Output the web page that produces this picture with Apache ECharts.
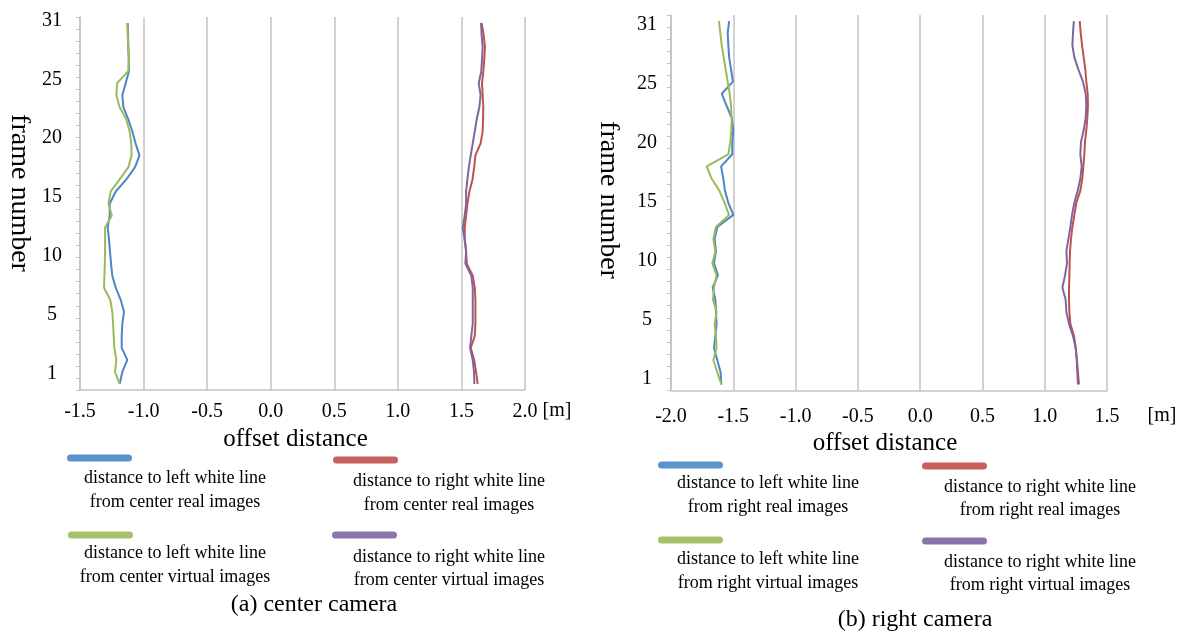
<!DOCTYPE html>
<html>
<head>
<meta charset="utf-8">
<title>offset distance per frame</title>
<script src="https://cdn.jsdelivr.net/npm/echarts@6.0.0/dist/echarts.min.js"></script>
<style>
  html, body { margin: 0; padding: 0; background: #fff; }
  #chart { width: 1190px; height: 632px; }
</style>
</head>
<body>
<div id="chart"></div>
<script>
  // frame numbers, bottom to top
  const frames = ['1', '2', '3', '4', '5', '6', '7', '8', '9', '10',
    '11', '12', '13', '14', '15', '16', '17', '18', '19', '20',
    '21', '22', '23', '24', '25', '26', '27', '28', '29', '30', '31'];

  // the printed frame labels sit evenly spaced, not on their frames
  const yTickLabels = ['1', '5', '10', '15', '20', '25', '31'];
  const yTickSlots = [0, 1, 2, 3, 4, 5, 6];

  // (a) center camera, offset in m, frame 1 .. 31
  const centerLeftReal = [-1.188, -1.167, -1.128, -1.172, -1.172, -1.167, -1.154, -1.18, -1.219, -1.246,
    -1.256, -1.264, -1.272, -1.282, -1.266, -1.266, -1.219, -1.136, -1.068, -1.032,
    -1.063, -1.089, -1.12, -1.159, -1.167, -1.141, -1.115, -1.117, -1.12, -1.122, -1.125];
  const centerLeftVirtual = [-1.188, -1.225, -1.214, -1.23, -1.235, -1.24, -1.246, -1.262, -1.311, -1.308,
    -1.305, -1.303, -1.303, -1.303, -1.25, -1.276, -1.259, -1.188, -1.12, -1.094,
    -1.097, -1.11, -1.136, -1.188, -1.214, -1.208, -1.12, -1.115, -1.12, -1.125, -1.128];
  const centerRightReal = [1.628, 1.615, 1.6, 1.573, 1.605, 1.61, 1.61, 1.61, 1.605, 1.589,
    1.542, 1.537, 1.526, 1.526, 1.537, 1.547, 1.563, 1.587, 1.6, 1.61,
    1.651, 1.667, 1.67, 1.672, 1.667, 1.662, 1.672, 1.68, 1.685, 1.675, 1.659];
  const centerRightVirtual = [1.602, 1.599, 1.589, 1.568, 1.578, 1.589, 1.589, 1.589, 1.589, 1.578,
    1.531, 1.537, 1.526, 1.51, 1.526, 1.537, 1.537, 1.547, 1.558, 1.573,
    1.589, 1.605, 1.62, 1.641, 1.651, 1.636, 1.656, 1.662, 1.667, 1.659, 1.654];

  // (b) right camera
  const rightLeftReal = [-1.596, -1.602, -1.628, -1.655, -1.644, -1.634, -1.639, -1.644, -1.666, -1.623,
    -1.655, -1.639, -1.65, -1.628, -1.5, -1.54, -1.567, -1.58, -1.598, -1.508,
    -1.508, -1.5, -1.513, -1.553, -1.593, -1.503, -1.518, -1.533, -1.54, -1.545, -1.533];
  const rightLeftVirtual = [-1.596, -1.628, -1.66, -1.634, -1.639, -1.65, -1.634, -1.663, -1.655, -1.634,
    -1.668, -1.644, -1.66, -1.639, -1.534, -1.57, -1.612, -1.674, -1.713, -1.54,
    -1.524, -1.516, -1.513, -1.518, -1.529, -1.545, -1.561, -1.577, -1.593, -1.604, -1.615];
  const rightRightReal = [1.275, 1.267, 1.259, 1.249, 1.235, 1.206, 1.198, 1.195, 1.195, 1.198,
    1.2, 1.203, 1.211, 1.222, 1.238, 1.254, 1.286, 1.302, 1.31, 1.318,
    1.323, 1.334, 1.342, 1.347, 1.345, 1.334, 1.326, 1.313, 1.3, 1.289, 1.281];
  const rightRightVirtual = [1.267, 1.262, 1.257, 1.249, 1.227, 1.195, 1.174, 1.168, 1.142, 1.163,
    1.179, 1.174, 1.19, 1.206, 1.219, 1.238, 1.265, 1.286, 1.297, 1.286,
    1.291, 1.313, 1.329, 1.334, 1.329, 1.307, 1.27, 1.238, 1.222, 1.227, 1.234];

  const centerNames = [
    'distance to left white line\nfrom center real images',
    'distance to right white line\nfrom center real images',
    'distance to left white line\nfrom center virtual images',
    'distance to right white line\nfrom center virtual images'
  ];
  const rightNames = [
    'distance to left white line\nfrom right real images',
    'distance to right white line\nfrom right real images',
    'distance to left white line\nfrom right virtual images',
    'distance to right white line\nfrom right virtual images'
  ];
  const colors = ['#4a86c8', '#c0504d', '#9bbb59', '#8064a2'];

  const font = 'Liberation Serif, Times New Roman, serif';
  const gridColor = '#c3c3c3';

  function lineSeries(name, values, color, panel) {
    return {
      name: name,
      type: 'line',
      xAxisIndex: panel,
      yAxisIndex: panel * 2,
      showSymbol: false,
      smooth: false,
      lineStyle: {color: color, width: 2},
      itemStyle: {color: color},
      data: values.map((v, i) => [v, frames[i]])
    };
  }

  function xAxisFor(panel, min, max, labelMargin, nameGap, shift) {
    return {
      gridIndex: panel,
      type: 'value',
      min: min,
      max: max,
      interval: 0.5,
      axisLine: {onZero: false, lineStyle: {color: gridColor, width: 1.5}},
      axisTick: {show: false},
      splitLine: {show: true, lineStyle: {color: gridColor, width: 1.5}},
      axisLabel: {
        fontFamily: font, fontSize: 20, color: '#000', margin: labelMargin,
        formatter: v => v.toFixed(1)
      },
      name: 'offset distance',
      nameLocation: 'middle',
      nameGap: nameGap,
      nameTextStyle: {fontFamily: font, fontSize: 25, color: '#000', padding: [0, shift, 0, 0]}
    };
  }

  function frameAxis(panel) {
    return {
      gridIndex: panel,
      type: 'category',
      data: frames,
      boundaryGap: true,
      position: 'left',
      axisLine: {onZero: false, lineStyle: {color: gridColor, width: 1.5}},
      axisTick: {show: true, interval: 0, length: 4, lineStyle: {color: gridColor}},
      axisLabel: {show: false},
      splitLine: {show: false}
    };
  }

  function labelAxis(panel, min, max, margin) {
    return {
      gridIndex: panel,
      type: 'value',
      position: 'left',
      min: min,
      max: max,
      axisLine: {show: false, onZero: false},
      axisTick: {show: false},
      splitLine: {show: false},
      axisLabel: {
        fontFamily: font, fontSize: 20, color: '#000', margin: margin, align: 'center',
        customValues: yTickSlots,
        formatter: v => yTickLabels[Math.round(v)]
      }
    };
  }

  function legendItem(color, text, sx, sy, tx, ty, lh) {
    return [
      {
        type: 'rect',
        shape: {x: sx, y: sy - 3.5, width: 65, height: 7, r: 3.5},
        style: {fill: color, opacity: 0.9}
      },
      {
        type: 'text',
        x: tx, y: ty - lh / 2,
        style: {
          text: text, fill: '#000', font: '18px ' + font,
          align: 'center', verticalAlign: 'top', lineHeight: lh
        }
      }
    ];
  }

  function caption(text, x, y, size, rotation) {
    return {
      type: 'text', x: x, y: y, rotation: rotation || 0,
      style: {text: text, fill: '#000', font: size + 'px ' + font, align: 'center', verticalAlign: 'middle'}
    };
  }

  const graphics = [].concat(
    legendItem(colors[0], centerNames[0], 67, 458, 175, 478, 24),
    legendItem(colors[1], centerNames[1], 333, 460, 449, 481, 24),
    legendItem(colors[2], centerNames[2], 68, 535, 175, 553, 24),
    legendItem(colors[3], centerNames[3], 332, 535, 449, 557, 23),
    legendItem(colors[0], rightNames[0], 658, 465, 768, 483, 24),
    legendItem(colors[1], rightNames[1], 922, 466, 1040, 487, 23),
    legendItem(colors[2], rightNames[2], 658, 540, 768, 559, 24),
    legendItem(colors[3], rightNames[3], 922, 541, 1040, 562, 23),
    [
      caption('frame number', 19, 193, 28, -Math.PI / 2),
      caption('frame number', 608, 200, 28, -Math.PI / 2),
      caption('[m]', 557, 411, 20),
      caption('[m]', 1162, 416, 20),
      caption('(a) center camera', 314, 605, 24),
      caption('(b) right camera', 915, 620, 24)
    ]
  );

  const chart = echarts.init(document.getElementById('chart'));
  chart.setOption({
    animation: false,
    backgroundColor: '#fff',
    grid: [
      {left: 80, top: 17, width: 445, height: 373},
      {left: 671, top: 15, width: 436, height: 375.5}
    ],
    xAxis: [
      xAxisFor(0, -1.5, 2.0, 12, 34, 14),
      xAxisFor(1, -2.0, 1.5, 16, 38, 8)
    ],
    yAxis: [
      frameAxis(0),
      labelAxis(0, -0.271, 6.056, 28),
      frameAxis(1),
      labelAxis(1, -0.204, 6.165, 24)
    ],
    series: [
      lineSeries(centerNames[0], centerLeftReal, colors[0], 0),
      lineSeries(centerNames[1], centerRightReal, colors[1], 0),
      lineSeries(centerNames[2], centerLeftVirtual, colors[2], 0),
      lineSeries(centerNames[3], centerRightVirtual, colors[3], 0),
      lineSeries(rightNames[0], rightLeftReal, colors[0], 1),
      lineSeries(rightNames[1], rightRightReal, colors[1], 1),
      lineSeries(rightNames[2], rightLeftVirtual, colors[2], 1),
      lineSeries(rightNames[3], rightRightVirtual, colors[3], 1)
    ],
    graphic: graphics
  });
  window.addEventListener('resize', function () {
    chart.resize();
  });
</script>
</body>
</html>
